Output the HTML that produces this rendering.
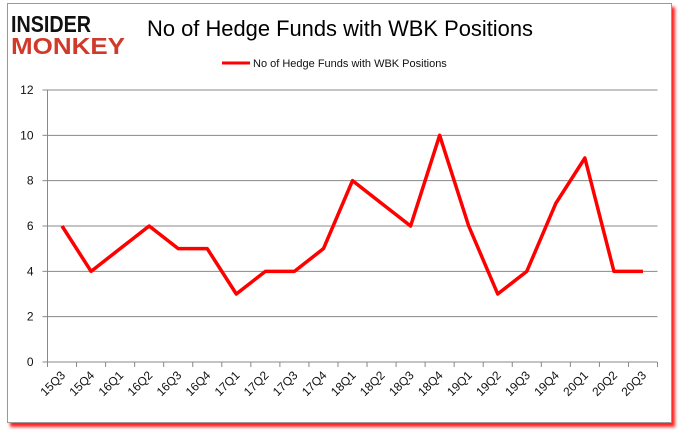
<!DOCTYPE html>
<html><head><meta charset="utf-8"><style>
html,body{margin:0;padding:0;background:#fff;}
body{width:680px;height:433px;position:relative;overflow:hidden;font-family:"Liberation Sans",sans-serif;}
#frame{position:absolute;left:7px;top:3px;width:663px;height:418px;background:#fff;border:1px solid #999;box-shadow:3px 4px 3px #f22;}
</style></head><body>
<div id="frame"></div>
<svg id="chart" width="680" height="433" style="position:absolute;left:0;top:0">
<g>
<text x="11" y="32" font-family="Liberation Sans" font-weight="bold" font-size="23" fill="#111" textLength="80" lengthAdjust="spacingAndGlyphs">INSIDER</text>
<text x="11" y="54" font-family="Liberation Sans" font-weight="bold" font-size="23" fill="#d03a2a" textLength="114" lengthAdjust="spacingAndGlyphs">MONKEY</text>
</g>
<text x="340" y="36" text-anchor="middle" font-size="22" fill="#000" textLength="386" lengthAdjust="spacingAndGlyphs">No of Hedge Funds with WBK Positions</text>
<g>
<line x1="222" y1="63" x2="250" y2="63" stroke="#f00" stroke-width="3"/>
<text x="253" y="67" font-size="11" fill="#111">No of Hedge Funds with WBK Positions</text>
</g>
<g id="grid"></g><g id="axes"></g><g id="series"></g>
</svg>
<script>
const categories=["15Q3","15Q4","16Q1","16Q2","16Q3","16Q4","17Q1","17Q2","17Q3","17Q4","18Q1","18Q2","18Q3","18Q4","19Q1","19Q2","19Q3","19Q4","20Q1","20Q2","20Q3"];
const values=[6,4,5,6,5,5,3,4,4,5,8,7,6,10,6,3,4,7,9,4,4];
const yTicks=[0,2,4,6,8,10,12];
const NS="http://www.w3.org/2000/svg";
const L=47.5,R=657.5,T=90,B=362,YMAX=12;
const band=(R-L)/categories.length;
const x=i=>L+band*(i+0.5);
const y=v=>B-(v/YMAX)*(B-T);
function mk(tag,attrs,parent){const e=document.createElementNS(NS,tag);for(const k in attrs)e.setAttribute(k,attrs[k]);parent.appendChild(e);return e;}
const grid=document.getElementById('grid'),axes=document.getElementById('axes'),series=document.getElementById('series');
yTicks.forEach(t=>{
  const g=mk('line',{x1:L,x2:R,y1:y(t),y2:y(t),stroke:'#888','stroke-width':1},grid);
  
  
  mk('line',{x1:L-5,x2:L,y1:y(t),y2:y(t),stroke:'#888'},axes);
  const tx=mk('text',{x:L-14,y:y(t)+4,'text-anchor':'end','font-size':12,fill:'#111'},axes);
  tx.textContent=t;
  
  
});
const ya=mk('line',{x1:L,x2:L,y1:T,y2:B,stroke:'#888'},axes);


for(let i=0;i<=categories.length;i++){mk('line',{x1:L+band*i,x2:L+band*i,y1:B,y2:B+5,stroke:'#888'},axes);}
categories.forEach((c,i)=>{
  const tx=mk('text',{x:0,y:0,'text-anchor':'end','font-size':12,fill:'#111',transform:`translate(${x(i)+4},${B+14}) rotate(-45)`},axes);
  tx.textContent=c;
  
  
});
const pl=mk('polyline',{points:values.map((v,i)=>x(i)+','+y(v)).join(' '),fill:'none',stroke:'#f00','stroke-width':3.5,'stroke-linejoin':'round'},series);


</script>
</body></html>
